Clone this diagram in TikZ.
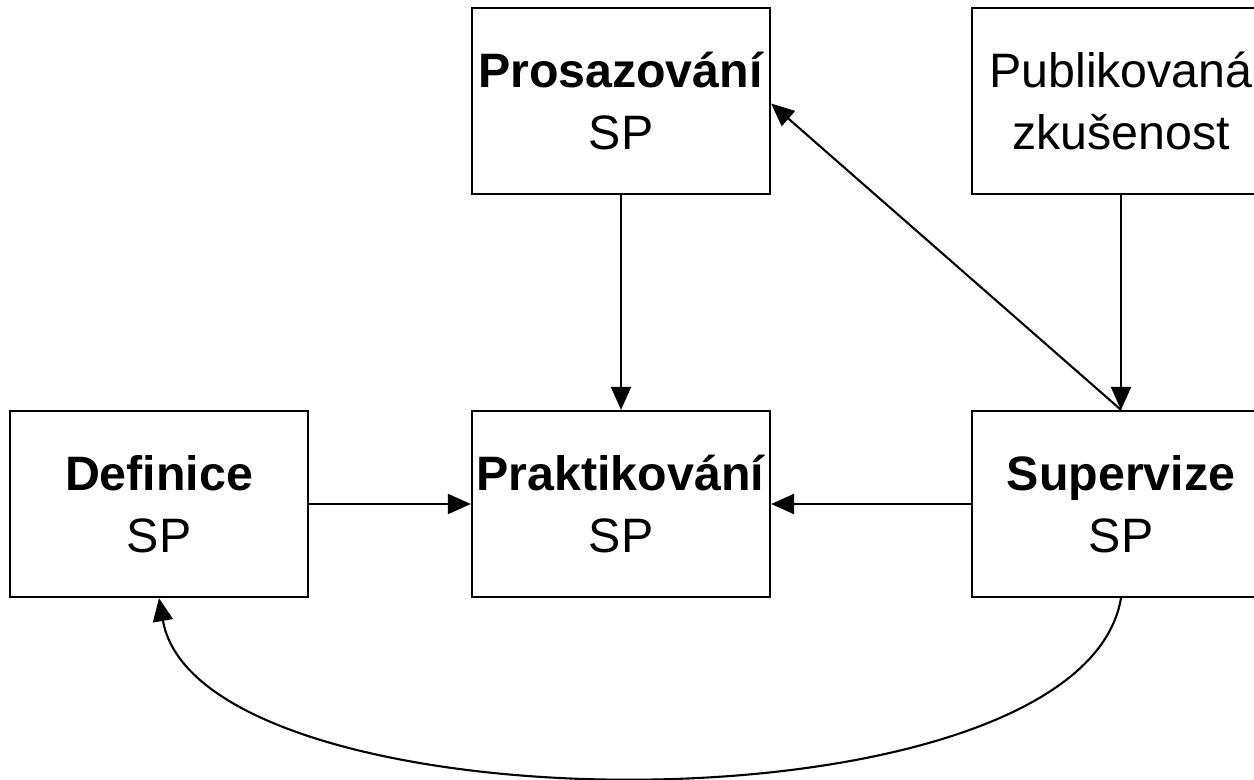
\documentclass[tikz,border=0pt]{standalone}
\usepackage{fontspec}
\setmainfont{Liberation Sans}
\usetikzlibrary{arrows.meta}

\begin{document}
\begin{tikzpicture}[
 font=\fontsize{27.5}{35}\selectfont,
 box/.style={draw,line width=1.3pt,align=center,minimum width=5.96cm,minimum height=3.72cm,inner sep=0pt},
 flow/.style={-{Triangle[length=0.46cm,width=0.4cm]},line width=1.2pt}
]
\useasboundingbox (0,0) rectangle (25.08,-15.58);
\node[box] (pros) at (12.42,-2.02) {\textbf{Prosazování}\\SP};
\node[box] (pub) at (22.42,-2.02) {Publikovaná\\zkušenost};
\node[box] (def) at (3.18,-10.08) {\textbf{Definice}\\SP};
\node[box] (prak) at (12.42,-10.08) {\textbf{Praktikování}\\SP};
\node[box] (sup) at (22.42,-10.08) {\textbf{Supervize}\\SP};
\draw[flow] (pros) -- (prak);
\draw[flow] (pub) -- (sup);
\draw[flow] (sup.north) -- ([yshift=-0.05cm]pros.east);
\draw[flow] (def) -- (prak);
\draw[flow] (sup) -- (prak);
\draw[flow] (sup.south) .. controls (21.6,-16.8) and (4.0,-16.66) .. (def.south);
\end{tikzpicture}
\end{document}
